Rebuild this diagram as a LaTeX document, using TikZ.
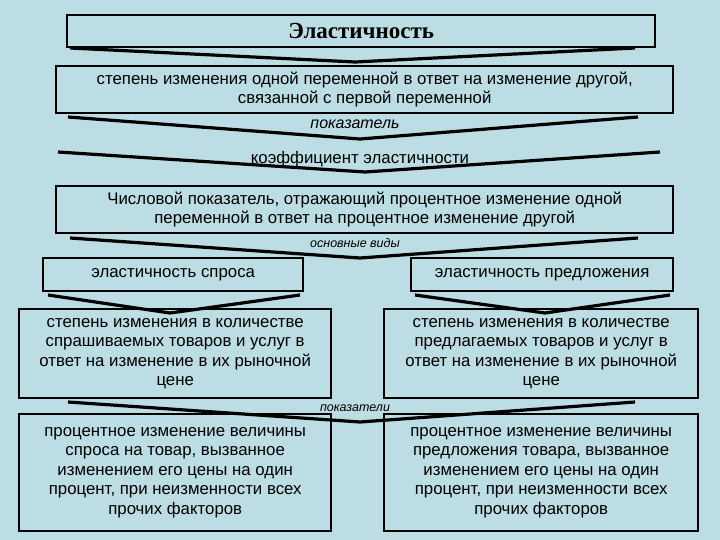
\documentclass[tikz,border=0pt]{standalone}
\usepackage{fontspec}
\setmainfont{Liberation Sans}
\newfontfamily\titlefont{Liberation Serif}
\begin{document}
\begin{tikzpicture}[x=1pt,y=-1pt,
 box/.style={draw=black,line width=2.4pt,fill=none,anchor=north west,inner sep=1pt,align=center,font=\fontsize{16.8}{19.5}\selectfont},
 vee/.style={line width=3.2pt,line join=miter},
 lbl/.style={font=\fontsize{16.8}{18}\selectfont},
 small/.style={font=\fontsize{12.5}{13}\selectfont\itshape}]
\fill[fill={rgb,255:red,188;green,221;blue,227}] (0,0) rectangle (720,540);
\useasboundingbox (0,0) rectangle (720,540);
\node[box,minimum width=588pt,minimum height=32pt,font=\titlefont\bfseries\fontsize{23}{24}\selectfont] (t) at (66,14) {Эластичность};
\node[box,minimum width=617pt,minimum height=47pt] (b2) at (55,65) {степень изменения одной переменной в ответ на изменение другой,\\связанной с первой переменной};
\node[box,minimum width=617pt,minimum height=47pt] (b3) at (55,185) {Числовой показатель, отражающий процентное изменение одной\\переменной в ответ на процентное изменение другой};
\node[box,minimum width=260pt,minimum height=33pt] (l4) at (42,257) {эластичность спроса};
\node[box,minimum width=262pt,minimum height=33pt] (r4) at (410,257) {эластичность предложения};
\node[box,minimum width=312pt,minimum height=89pt] (l5) at (18,308) {степень изменения в количестве\\спрашиваемых товаров и услуг в\\ответ на изменение в их рыночной\\цене};
\node[box,minimum width=314pt,minimum height=89pt] (r5) at (383,308) {степень изменения в количестве\\предлагаемых товаров и услуг в\\ответ на изменение в их рыночной\\цене};
\node[box,minimum width=312pt,minimum height=117pt] (l6) at (18,413) {процентное изменение величины\\спроса на товар, вызванное\\изменением его цены на один\\процент, при неизменности всех\\прочих факторов};
\node[box,minimum width=314pt,minimum height=117pt] (r6) at (383,413) {процентное изменение величины\\предложения товара, вызванное\\изменением его цены на один\\процент, при неизменности всех\\прочих факторов};
\draw[vee] (70,48) -- (355,62) -- (635,48);
\draw[vee] (68,117) -- (360,139) -- (638,117);
\node[lbl,font=\fontsize{16}{18}\selectfont\itshape] (p1) at (355,124) {показатель};
\draw[vee] (58,152) -- (365,172) -- (660,152);
\node[lbl] (k) at (360,159) {коэффициент эластичности};
\draw[vee] (70,238) -- (360,258) -- (638,238);
\node[small] (ov) at (355,243) {основные виды};
\draw[vee] (48,295) -- (170,313) -- (300,295);
\draw[vee] (415,295) -- (545,313) -- (670,295);
\draw[vee] (68,402) -- (360,422) -- (635,402);
\node[small] (pp) at (355,408) {показатели};
\end{tikzpicture}
\end{document}
